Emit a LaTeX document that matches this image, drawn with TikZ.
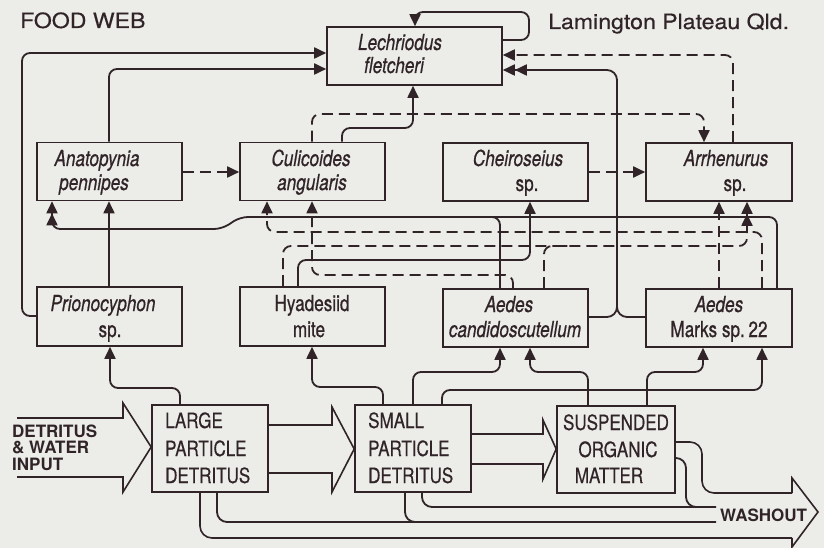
\documentclass[tikz,border=0pt]{standalone}
\usepackage{fontspec}
\setmainfont{TeX Gyre Heros}
\newfontfamily\spfont[FakeStretch=0.78,FakeBold=0.6]{TeX Gyre Heros}
\newfontfamily\ttlfont[FakeStretch=1.1,FakeBold=0.5]{TeX Gyre Heros}
\newfontfamily\cmpfont[FakeStretch=0.81,FakeBold=0.5]{TeX Gyre Heros}
\usetikzlibrary{arrows.meta}
\definecolor{bg}{RGB}{236,237,233}
\definecolor{ink}{RGB}{48,36,40}
\tikzset{
 spbox/.style={draw=ink, line width=1.6pt, minimum width=145pt, minimum height=58pt, inner sep=0pt},
 cmpbox/.style={draw=ink, line width=1.6pt, minimum width=116pt, minimum height=87pt, inner sep=0pt},
 sptext/.style={anchor=base, inner sep=0pt, text=ink, font=\spfont\fontsize{22}{23}\selectfont},
 cmptext/.style={anchor=base west, inner sep=0pt, text=ink, font=\cmpfont\fontsize{21}{24}\selectfont},
 cmpctext/.style={cmptext, anchor=base},
 ttltext/.style={anchor=base west, inner sep=0pt, text=ink, font=\ttlfont\fontsize{21}{22}\selectfont},
 boldtext/.style={inner sep=0pt, text=ink, font=\bfseries\fontsize{17}{16.5}\selectfont},
 link/.style={draw=ink, line width=1.8pt, rounded corners=8pt},
 dlink/.style={link, dash pattern=on 11pt off 6pt},
 tip/.style={-{Triangle[length=12pt,width=11pt]}},
 tiptwo/.style={-{Triangle[length=12pt,width=11pt]Triangle[length=12pt,width=11pt]}},
 fat/.style={draw=ink, line width=1.6pt},
}
\begin{document}
\begin{tikzpicture}[x=1pt,y=-1pt]
\path[use as bounding box, fill=bg] (0,0) rectangle (824,548);

% titles
\node[ttltext] (ttl) at (20,28) {FOOD WEB};
\node[ttltext] (place) at (548,29) {Lamington Plateau Qld.};

% species boxes
\node[spbox, minimum width=175pt] (lech) at (414.5,56) {};
\node[spbox] (anat) at (109.5,171.5) {};
\node[spbox] (culi) at (312.5,171.5) {};
\node[spbox] (chei) at (515.5,172) {};
\node[spbox, minimum width=146pt] (arrh) at (719,172) {};
\node[spbox, minimum height=59pt] (prio) at (109.5,316.5) {};
\node[spbox, minimum height=59pt] (hyad) at (312.5,316.5) {};
\node[spbox] (aedc) at (515.5,318) {};
\node[spbox, minimum width=146pt] (aedm) at (719,318) {};

% detritus boxes
\node[cmpbox] (large) at (210,448.5) {};
\node[cmpbox] (small) at (413,448.5) {};
\node[cmpbox, minimum width=118pt] (susp) at (616,449.5) {};

% species texts
\node[sptext] (lech1) at (400,50) {\itshape Lechriodus};
\node[sptext] (lech2) at (394,73) {\itshape fletcheri};
\node[sptext] (anat1) at (97,166) {\itshape Anatopynia};
\node[sptext] (anat2) at (94,190) {\itshape pennipes};
\node[sptext] (culi1) at (311,166) {\itshape Culicoides};
\node[sptext] (culi2) at (312,190) {\itshape angularis};
\node[sptext] (chei1) at (518,166) {\itshape Cheiroseius};
\node[sptext] (chei2) at (527,191) {sp.};
\node[sptext] (arrh1) at (726,166) {\itshape Arrhenurus};
\node[sptext] (arrh2) at (735,191) {sp.};
\node[sptext] (prio1) at (103,311) {\itshape Prionocyphon};
\node[sptext] (prio2) at (110,337) {sp.};
\node[sptext] (hyad1) at (312,311) {Hyadesiid};
\node[sptext] (hyad2) at (309,337) {mite};
\node[sptext] (aedc1) at (509,312) {\itshape Aedes};
\node[sptext] (aedc2) at (515,337) {\itshape candidoscutellum};
\node[sptext] (aedm1) at (719,312) {\itshape Aedes};
\node[sptext] (aedm2) at (719,337) {Marks sp.\,22};

% detritus texts
\node[cmptext] (lg1) at (165,428) {LARGE};
\node[cmptext] (lg2) at (165,456) {PARTICLE};
\node[cmptext] (lg3) at (165,483) {DETRITUS};
\node[cmptext] (sm1) at (368,428) {SMALL};
\node[cmptext] (sm2) at (368,456) {PARTICLE};
\node[cmptext] (sm3) at (368,483) {DETRITUS};
\node[cmpctext] (su1) at (616,430) {SUSPENDED};
\node[cmpctext] (su2) at (618,457) {ORGANIC};
\node[cmpctext] (su3) at (609,483) {MATTER};

\node[boldtext, anchor=base west] (in1) at (12,437) {DETRITUS};
\node[boldtext, anchor=base west] (in2) at (12,453) {\& WATER};
\node[boldtext, anchor=base west] (in3) at (12,470) {INPUT};
\node[boldtext, anchor=base west] (wash) at (720,521) {WASHOUT};

% hollow flow arrows
\draw[fat] (17,418) -- (123,418) -- (123,403) -- (large.west |- 0,447) -- (123,492) -- (123,477) -- (17,477);
\draw[fat] (large.east |- 0,425) -- (332,425) -- (332,407) -- (small.west |- 0,449) -- (332,492) -- (332,473) -- (large.east |- 0,473);
\draw[fat] (small.east |- 0,434) -- (543,434) -- (543,420) -- (susp.west |- 0,449) -- (543,479) -- (543,464) -- (small.east |- 0,464);
\draw[fat, rounded corners=12pt] (susp.east |- 0,442) -- (702,442) -- (702,493) -- (792,493);
\draw[fat] (792,493) -- (792,478) -- (818,512) -- (792,547) -- (792,538);
\draw[fat, rounded corners=12pt] (792,538) -- (200,538) -- (large.south -| 200,0);
\draw[link, rounded corners=10pt] (large.south -| 217,0) -- (217,522) -- (716,522);
\draw[link, rounded corners=10pt] (small.south -| 405,0) -- (405,522) -- (440,522);
\draw[link, rounded corners=10pt] (small.south -| 422,0) -- (422,507) -- (716,507);
\draw[link, rounded corners=10pt] (susp.east |- 0,458) -- (686,458) -- (686,507) -- (705,507);

% connectors to Lechriodus
\draw[link, tip] (lech.east |- 0,40) -- (529,40) -- (529,12) -- (415,12) -- (lech.north -| 415,0);
\draw[link, tip] (prio.west |- 0,316) -- (22,316) -- (22,53) -- (lech.west |- 0,53);
\draw[link, tip] (anat.north -| 109,0) -- (109,69) -- (lech.west |- 0,69);
\draw[link, tip] (culi.north -| 342,0) -- (342,128) -- (413,128) -- (lech.south -| 413,0);
\draw[dlink, tip] (culi.north -| 312,0) -- (312,114) -- (704,114) -- (arrh.north -| 704,0);
\draw[dlink, tip] (arrh.north -| 733,0) -- (733,55) -- (lech.east |- 0,55);
\draw[link, tiptwo, rounded corners=10pt] (aedc.east |- 0,317) -- (617,317) -- (617,70) -- (lech.east |- 0,70);
\draw[link, rounded corners=10pt] (aedm.west |- 0,317) -- (617,317) -- (617,290);

% horizontal dashed links in top row
\draw[dlink, tip] (anat.east |- 0,172) -- (culi.west |- 0,172);
\draw[dlink, tip] (chei.east |- 0,172) -- (arrh.west |- 0,172);

% middle web
\draw[link, tip] (prio.north -| 109,0) -- (anat.south -| 109,0);
\draw[link, tiptwo] (aedm.north -| 777,0) -- (777,217) -- (240,217) -- (222,229) -- (52,229) -- (anat.south -| 52,0);
\draw[link] (aedc.north -| 500,0) -- (500,217) -- (470,217);
\draw[dlink, tip] (aedm.north -| 762,0) -- (762,232) -- (267,232) -- (culi.south -| 267,0);
\draw[dlink, tip] (aedc.north -| 513,0) -- (513,275) -- (312,275) -- (culi.south -| 312,0);
\draw[dlink, tiptwo] (hyad.north -| 283,0) -- (283,246) -- (747,246) -- (arrh.south -| 747,0);
\draw[dlink] (aedc.north -| 544,0) -- (544,246) -- (575,246);
\draw[link, tip] (hyad.north -| 298,0) -- (298,260) -- (530,260) -- (chei.south -| 530,0);
\draw[dlink, tip] (aedm.north -| 719,0) -- (arrh.south -| 719,0);

% from detritus pools up
\draw[link, tip] (large.north -| 180,0) -- (180,388) -- (110,388) -- (prio.south -| 110,0);
\draw[link, tip] (small.north -| 383,0) -- (383,387) -- (312,387) -- (hyad.south -| 312,0);
\draw[link, tip] (small.north -| 413,0) -- (413,372) -- (500,372) -- (aedc.south -| 500,0);
\draw[link, tip] (susp.north -| 588,0) -- (588,372) -- (530,372) -- (aedc.south -| 530,0);
\draw[link, tip] (susp.north -| 647,0) -- (647,372) -- (703,372) -- (aedm.south -| 703,0);
\draw[link, tip] (small.north -| 442,0) -- (442,390) -- (762,390) -- (aedm.south -| 762,0);
\end{tikzpicture}
\end{document}
